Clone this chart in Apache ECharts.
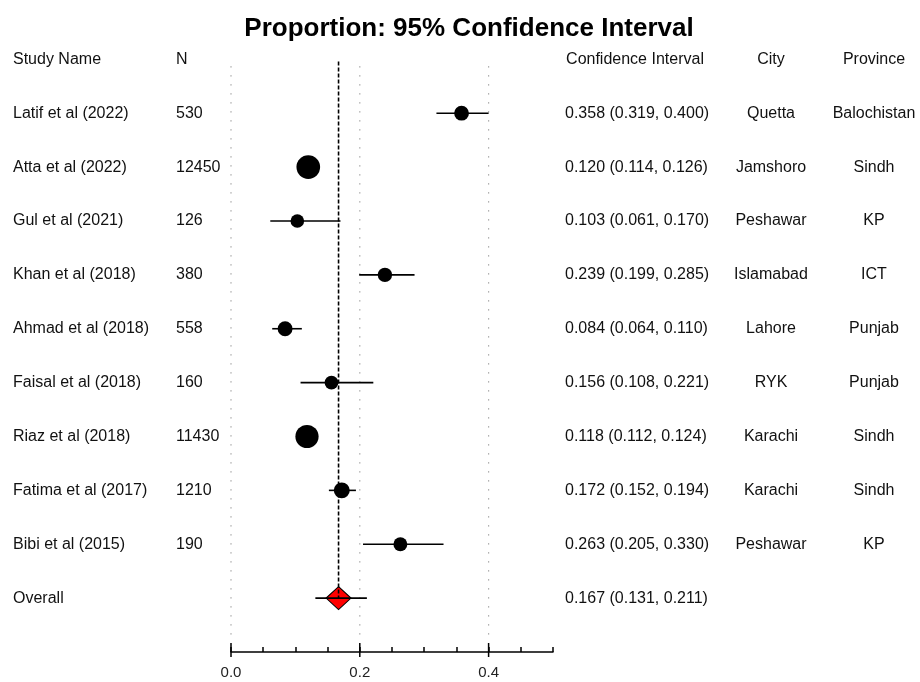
<!DOCTYPE html>
<html>
<head>
<meta charset="utf-8">
<script src="https://cdn.jsdelivr.net/npm/echarts@6/dist/echarts.min.js"></script>
<style>
  html, body { margin: 0; padding: 0; background: #fff; }
  #main { width: 920px; height: 682px; }
</style>
</head>
<body>
<div id="main"></div>
<script>
// 数据
var studies = ['Latif et al (2022)', 'Atta et al (2022)', 'Gul et al (2021)', 'Khan et al (2018)',
  'Ahmad et al (2018)', 'Faisal et al (2018)', 'Riaz et al (2018)', 'Fatima et al (2017)', 'Bibi et al (2015)'];
var sampleN = [530, 12450, 126, 380, 558, 160, 11430, 1210, 190];
var estimate = [0.358, 0.120, 0.103, 0.239, 0.084, 0.156, 0.118, 0.172, 0.263];
var lower = [0.319, 0.114, 0.061, 0.199, 0.064, 0.108, 0.112, 0.152, 0.205];
var upper = [0.400, 0.126, 0.170, 0.285, 0.110, 0.221, 0.124, 0.194, 0.330];
var cities = ['Quetta', 'Jamshoro', 'Peshawar', 'Islamabad', 'Lahore', 'RYK', 'Karachi', 'Karachi', 'Peshawar'];
var provinces = ['Balochistan', 'Sindh', 'KP', 'ICT', 'Punjab', 'Punjab', 'Sindh', 'Sindh', 'KP'];
var overallEst = 0.167, overallLo = 0.131, overallHi = 0.211;
var headers = ['Study Name', 'N', 'Confidence Interval', 'City', 'Province'];
var labelTicks = [0, 0.2, 0.4];
var labelTickText = ['0.0', '0.2', '0.4'];

var FONT = '"Liberation Sans", Arial, sans-serif';
var overallRow = studies.length;
var yMin = -0.96, yMax = 10.0;

function ciText(e, l, h) {
  return e.toFixed(3) + ' (' + l.toFixed(3) + ', ' + h.toFixed(3) + ')';
}

// 表格文字 (row -1 是表头)
var tableRows = [[-1]];
studies.forEach(function (s, i) { tableRows.push([i]); });
tableRows.push([overallRow]);

function txt(text, x, y, align) {
  return {
    type: 'text',
    style: { text: text, x: x, y: y, align: align, verticalAlign: 'middle', font: '16px ' + FONT, fill: '#111' }
  };
}

var myChart = echarts.init(document.getElementById('main'));

var ciData = studies.map(function (s, i) { return [lower[i], upper[i], i]; });
ciData.push([overallLo, overallHi, overallRow]);

var option = {
  animation: false,
  title: {
    text: 'Proportion: 95% Confidence Interval',
    left: 464, top: 11, textAlign: 'center',
    textStyle: { fontFamily: FONT, fontSize: 26, fontWeight: 'bold', color: '#000' }
  },
  grid: { left: 231, right: 367, top: 61.5, bottom: 30 },
  xAxis: {
    type: 'value', min: 0, max: 0.5, interval: 0.05,
    axisLine: { show: true, onZero: false, lineStyle: { color: '#000', width: 1.5 } },
    axisTick: { show: true, inside: true, length: 5, lineStyle: { color: '#000', width: 1.5 } },
    splitLine: { show: false },
    axisLabel: {
      fontFamily: FONT, fontSize: 15, color: '#222', margin: 13,
      formatter: function (v) {
        var k = labelTicks.findIndex(function (t) { return Math.abs(t - v) < 1e-6; });
        return k >= 0 ? labelTickText[k] : '';
      }
    }
  },
  yAxis: { type: 'value', inverse: true, min: yMin, max: yMax, show: false },
  series: [
    {
      // 网格虚线 + 主刻度
      type: 'custom', z: 1, silent: true,
      data: labelTicks.map(function (v) { return [v]; }),
      renderItem: function (params, api) {
        var top = api.coord([api.value(0), -0.87]);
        var bot = api.coord([api.value(0), 9.8]);
        var ax = api.coord([api.value(0), yMax]);
        return {
          type: 'group', children: [
            { type: 'line', shape: { x1: top[0], y1: top[1], x2: bot[0], y2: bot[1] },
              style: { stroke: '#999', lineWidth: 1.2, lineDash: [1.2, 7.8] } },
            { type: 'line', shape: { x1: ax[0], y1: ax[1] - 9, x2: ax[0], y2: ax[1] + 5 },
              style: { stroke: '#000', lineWidth: 1.5 } }
          ]
        };
      }
    },
    {
      // 总体菱形
      type: 'scatter', z: 2, symbol: 'diamond', symbolSize: [25, 23],
      itemStyle: { color: '#ff0000', borderColor: '#000', borderWidth: 1, opacity: 1 },
      data: [[overallEst, overallRow]]
    },
    {
      // 置信区间线
      type: 'custom', z: 3, silent: true,
      data: ciData,
      renderItem: function (params, api) {
        var a = api.coord([api.value(0), api.value(2)]);
        var b = api.coord([api.value(1), api.value(2)]);
        return { type: 'line', shape: { x1: a[0], y1: a[1], x2: b[0], y2: b[1] },
          style: { stroke: '#000', lineWidth: 1.6 } };
      }
    },
    {
      // 总体估计值竖虚线
      type: 'custom', z: 4, silent: true,
      data: [[overallEst, overallRow]],
      renderItem: function (params, api) {
        var a = api.coord([api.value(0), yMin]);
        var b = api.coord([api.value(0), api.value(1)]);
        return { type: 'line', shape: { x1: a[0], y1: a[1], x2: b[0], y2: b[1] },
          style: { stroke: '#000', lineWidth: 1.6, lineDash: [4, 2] } };
      }
    },
    {
      // 各研究点
      type: 'scatter', z: 5, symbol: 'circle',
      symbolSize: function (val, params) { return 12.5 + Math.sqrt(sampleN[params.dataIndex]) / 10; },
      itemStyle: { color: '#000', opacity: 1 },
      data: estimate.map(function (e, i) { return [e, i]; })
    },
    {
      // 表格文字
      type: 'custom', z: 6, silent: true,
      data: tableRows,
      renderItem: function (params, api) {
        var r = api.value(0);
        var y = api.coord([0, r])[1];
        var kids = [];
        if (r < 0) {
          kids.push(txt(headers[0], 13, y, 'left'));
          kids.push(txt(headers[1], 176, y, 'left'));
          kids.push(txt(headers[2], 635, y, 'center'));
          kids.push(txt(headers[3], 771, y, 'center'));
          kids.push(txt(headers[4], 874, y, 'center'));
        } else if (r === overallRow) {
          kids.push(txt('Overall', 13, y, 'left'));
          kids.push(txt(ciText(overallEst, overallLo, overallHi), 565, y, 'left'));
        } else {
          kids.push(txt(studies[r], 13, y, 'left'));
          kids.push(txt(String(sampleN[r]), 176, y, 'left'));
          kids.push(txt(ciText(estimate[r], lower[r], upper[r]), 565, y, 'left'));
          kids.push(txt(cities[r], 771, y, 'center'));
          kids.push(txt(provinces[r], 874, y, 'center'));
        }
        return { type: 'group', children: kids };
      }
    }
  ]
};

myChart.setOption(option);
</script>
</body>
</html>
